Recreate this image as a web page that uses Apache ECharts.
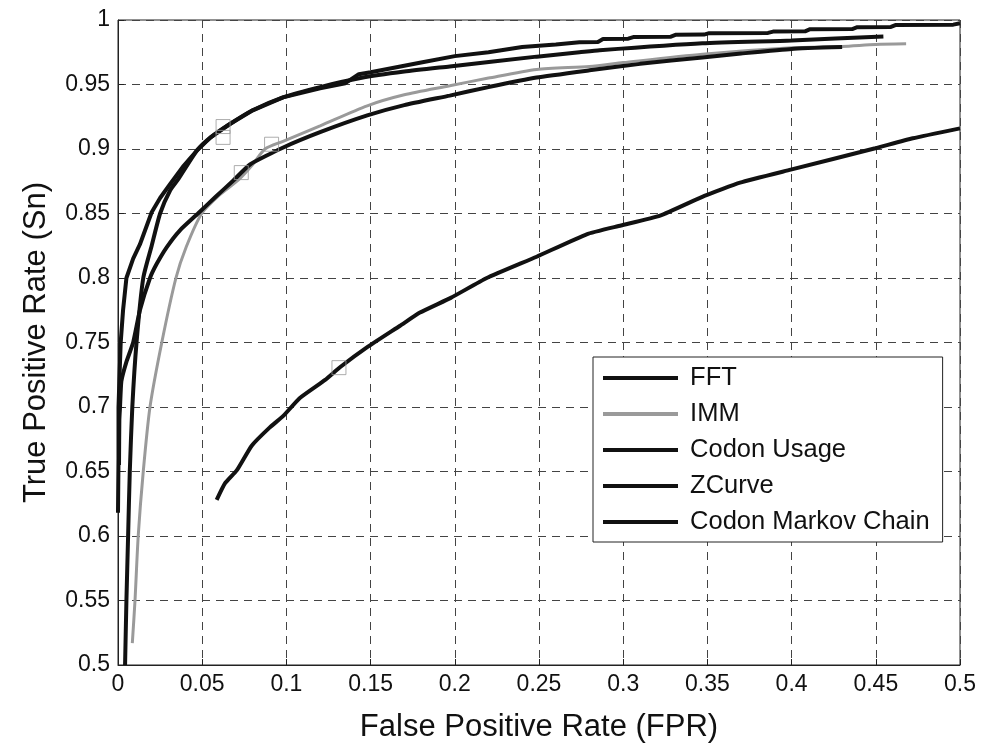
<!DOCTYPE html>
<html>
<head>
<meta charset="utf-8">
<script src="https://cdn.jsdelivr.net/npm/echarts@6/dist/echarts.min.js"></script>
<style>
html,body{margin:0;padding:0;background:#fff;}
#chart{width:982px;height:748px;}
</style>
</head>
<body>
<div id="chart"></div>
<script>
const seriesNames = ['FFT', 'IMM', 'Codon Usage', 'ZCurve', 'Codon Markov Chain'];
const xTicks = [0, 0.05, 0.1, 0.15, 0.2, 0.25, 0.3, 0.35, 0.4, 0.45, 0.5];
const yTicks = [0.5, 0.55, 0.6, 0.65, 0.7, 0.75, 0.8, 0.85, 0.9, 0.95, 1];

// FFT: steppy curve, top-left, ends at (0.5, 0.9975)
const fftData = [
  [0.0,0.618],[0.0003,0.66],[0.0003,0.70],[0.0008,0.72],[0.0016,0.75],[0.003,0.775],
  [0.005,0.80],[0.009,0.815],[0.013,0.826],[0.020,0.851],[0.025,0.862],[0.031,0.873],
  [0.039,0.887],[0.047,0.899],[0.055,0.909],[0.066,0.919],[0.08,0.930],[0.098,0.940],
  [0.12,0.947],[0.135,0.951],[0.143,0.958],[0.15,0.9595],[0.16,0.962],[0.18,0.967],
  [0.20,0.972],[0.22,0.975],[0.24,0.979],[0.26,0.981],[0.274,0.9827],[0.285,0.9830],
  [0.288,0.9852],[0.303,0.9855],[0.306,0.9868],[0.328,0.987],[0.331,0.9885],[0.348,0.9887],
  [0.351,0.9898],[0.386,0.990],[0.389,0.991],[0.408,0.9912],[0.411,0.9929],[0.436,0.993],
  [0.439,0.9944],[0.459,0.9946],[0.462,0.9962],[0.496,0.9964],[0.5,0.9975]
];
// IMM: gray curve
const immData = [
  [0.0085,0.517],[0.0101,0.55],[0.012,0.60],[0.015,0.65],[0.019,0.70],[0.026,0.75],
  [0.0344,0.80],[0.0405,0.824],[0.0497,0.85],[0.06,0.864],[0.0715,0.876],[0.08,0.888],
  [0.0873,0.90],[0.098,0.906],[0.12,0.918],[0.148,0.9335],[0.17,0.942],[0.197,0.949],
  [0.22,0.955],[0.2486,0.9617],[0.28,0.964],[0.30,0.967],[0.347,0.9735],[0.40,0.9785],
  [0.43,0.9795],[0.45,0.981],[0.468,0.9815]
];
// Codon Usage: smooth curve ending at (0.4545, 0.9873)
const codonUsageData = [
  [0.0042,0.5],[0.005,0.55],[0.006,0.60],[0.007,0.65],[0.0085,0.70],[0.011,0.75],
  [0.015,0.80],[0.020,0.825],[0.025,0.85],[0.031,0.868],[0.036,0.877],[0.047,0.899],
  [0.055,0.909],[0.066,0.919],[0.08,0.930],[0.098,0.940],[0.12,0.948],[0.144,0.955],
  [0.17,0.960],[0.197,0.964],[0.2486,0.9716],[0.274,0.975],[0.286,0.9766],[0.347,0.982],
  [0.40,0.9842],[0.4545,0.9873]
];
// ZCurve: middle black curve ending at (0.43, 0.979)
const zCurveData = [
  [0.0006,0.655],[0.0008,0.69],[0.0012,0.70],[0.002,0.72],[0.005,0.735],[0.009,0.75],
  [0.013,0.775],[0.019,0.80],[0.023,0.811],[0.029,0.824],[0.0368,0.837],[0.0475,0.85],
  [0.058,0.863],[0.0685,0.8756],[0.0784,0.888],[0.0972,0.9006],[0.12,0.913],[0.148,0.926],
  [0.17,0.934],[0.197,0.9414],[0.22,0.948],[0.2486,0.9554],[0.28,0.961],[0.31,0.966],
  [0.347,0.971],[0.37,0.974],[0.40,0.9776],[0.43,0.979]
];
// Codon Markov Chain: lower curve
const markovData = [
  [0.0586,0.628],[0.0635,0.6407],[0.0705,0.6508],[0.0794,0.670],[0.090,0.684],[0.098,0.6929],
  [0.108,0.707],[0.123,0.721],[0.132,0.731],[0.148,0.7464],[0.1675,0.763],[0.1793,0.7732],
  [0.1976,0.7846],[0.219,0.800],[0.2486,0.8165],[0.2783,0.8339],[0.2987,0.8407],[0.3219,0.8484],
  [0.3482,0.8637],[0.3694,0.8739],[0.3995,0.884],[0.4497,0.9006],[0.472,0.9083],[0.5,0.916]
];
// small open squares (operating points)
const markerPoints = [
  [0.0624,0.9174],[0.0624,0.909],[0.0912,0.9037],[0.0732,0.8817],[0.1312,0.7305]
];

const FONT = "'Liberation Sans', Arial, Helvetica, sans-serif";
const chart = echarts.init(document.getElementById('chart'), null, {renderer:'canvas'});

function lineSeries(name, data, color, width, z, smooth) {
  return {
    name: name, type: 'line', data: data, showSymbol: false, symbol: 'none',
    smooth: smooth || false,
    lineStyle: {color: color, width: width}, itemStyle: {color: color},
    z: z, animation: false
  };
}

function tickFmt(list) {
  return function (v) { const t = list.find(k => Math.abs(k - v) < 1e-9); return t === undefined ? '' : String(t); };
}

const option = {
  backgroundColor: '#fff',
  animation: false,
  grid: {left: 118, right: 22, top: 20, bottom: 74, show: true, borderColor: '#222', borderWidth: 1, backgroundColor: 'transparent'},
  xAxis: {
    type: 'value', min: 0, max: 0.5, interval: 0.05,
    name: 'False Positive Rate (FPR)', nameLocation: 'middle', nameGap: 47,
    nameTextStyle: {fontFamily: FONT, fontSize: 31, color: '#111'},
    axisLine: {show: true, lineStyle: {color: '#222', width: 1}},
    axisTick: {show: true, inside: true, length: 6, lineStyle: {color: '#222'}},
    axisLabel: {fontFamily: FONT, fontSize: 23, color: '#111', margin: 8, formatter: tickFmt(xTicks)},
    splitLine: {show: true, lineStyle: {color: '#444', width: 1, type: [8, 6]}}
  },
  yAxis: {
    type: 'value', min: 0.5, max: 1, interval: 0.05,
    name: 'True Positive Rate (Sn)', nameLocation: 'middle', nameGap: 66,
    nameTextStyle: {fontFamily: FONT, fontSize: 31, color: '#111'},
    axisLine: {show: true, lineStyle: {color: '#222', width: 1}},
    axisTick: {show: true, inside: true, length: 6, lineStyle: {color: '#222'}},
    axisLabel: {fontFamily: FONT, fontSize: 23, color: '#111', margin: 8, formatter: tickFmt(yTicks)},
    splitLine: {show: true, lineStyle: {color: '#444', width: 1, type: [8, 6]}}
  },
  legend: {
    data: seriesNames.map(n => ({name: n, icon: 'rect'})),
    formatter: function (n) { return ' ' + n; },
    orient: 'vertical', left: 593, top: 357,
    itemWidth: 75, itemHeight: 4, itemGap: 10,
    padding: [8, 13, 7, 10],
    backgroundColor: '#fff', borderColor: '#222', borderWidth: 1,
    textStyle: {fontFamily: FONT, fontSize: 25.5, color: '#111'},
    selectedMode: false
  },
  series: [
    lineSeries(seriesNames[0], fftData, '#111', 4, 2, false),
    lineSeries(seriesNames[1], immData, '#9a9a9a', 3, 1, 0.25),
    lineSeries(seriesNames[2], codonUsageData, '#111', 4, 3, 0.2),
    lineSeries(seriesNames[3], zCurveData, '#111', 4, 4, 0.15),
    lineSeries(seriesNames[4], markovData, '#111', 4, 5, 0.15),
    {
      name: 'markers', type: 'scatter', data: markerPoints, symbol: 'rect', symbolSize: 14,
      itemStyle: {color: 'rgba(0,0,0,0)', borderColor: '#999', borderWidth: 1}, z: 6, silent: true
    }
  ]
};
chart.setOption(option);
</script>
</body>
</html>
